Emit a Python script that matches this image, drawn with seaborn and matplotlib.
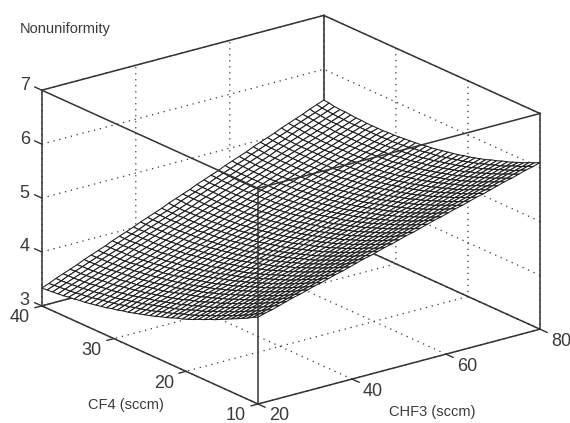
import seaborn as sns
from matplotlib import pyplot as plt
from mpl_toolkits.mplot3d import proj3d
import numpy as np

chf3 = np.linspace(20, 80, 41)
cf4 = np.linspace(40, 10, 41)
# nonuniformity, one row per cf4 value
z_rows = [
    [3.33,3.38,3.44,3.49,3.54,3.59,3.65,3.70,3.75,3.80,3.86,3.91,3.96,4.01,4.07,4.12,4.17,4.22,4.28,4.33,4.38,4.43,4.49,4.54,4.59,4.64,4.70,4.75,4.80,4.85,4.91,4.96,5.01,5.06,5.12,5.17,5.22,5.27,5.33,5.38,5.43],
    [3.34,3.39,3.44,3.50,3.55,3.60,3.65,3.70,3.75,3.81,3.86,3.91,3.96,4.01,4.07,4.12,4.17,4.22,4.27,4.33,4.38,4.43,4.48,4.53,4.59,4.64,4.69,4.74,4.79,4.85,4.90,4.95,5.00,5.05,5.10,5.16,5.21,5.26,5.31,5.36,5.42],
    [3.35,3.40,3.45,3.50,3.55,3.60,3.66,3.71,3.76,3.81,3.86,3.91,3.97,4.02,4.07,4.12,4.17,4.22,4.27,4.32,4.38,4.43,4.48,4.53,4.58,4.63,4.68,4.74,4.79,4.84,4.89,4.94,4.99,5.04,5.10,5.15,5.20,5.25,5.30,5.35,5.40],
    [3.36,3.41,3.46,3.51,3.56,3.61,3.66,3.71,3.77,3.82,3.87,3.92,3.97,4.02,4.07,4.12,4.17,4.22,4.27,4.32,4.38,4.43,4.48,4.53,4.58,4.63,4.68,4.73,4.78,4.83,4.88,4.94,4.99,5.04,5.09,5.14,5.19,5.24,5.29,5.34,5.39],
    [3.37,3.42,3.47,3.52,3.57,3.62,3.67,3.72,3.77,3.82,3.88,3.93,3.98,4.03,4.08,4.13,4.18,4.23,4.28,4.33,4.38,4.43,4.48,4.53,4.58,4.63,4.68,4.73,4.78,4.83,4.88,4.93,4.98,5.03,5.08,5.13,5.18,5.23,5.28,5.33,5.39],
    [3.39,3.43,3.48,3.53,3.58,3.63,3.68,3.73,3.78,3.83,3.88,3.93,3.98,4.03,4.08,4.13,4.18,4.23,4.28,4.33,4.38,4.43,4.48,4.53,4.58,4.63,4.68,4.73,4.78,4.83,4.88,4.93,4.98,5.03,5.08,5.13,5.18,5.23,5.28,5.33,5.38],
    [3.40,3.45,3.50,3.55,3.60,3.65,3.70,3.74,3.79,3.84,3.89,3.94,3.99,4.04,4.09,4.14,4.19,4.24,4.29,4.34,4.39,4.43,4.48,4.53,4.58,4.63,4.68,4.73,4.78,4.83,4.88,4.93,4.98,5.03,5.08,5.12,5.17,5.22,5.27,5.32,5.37],
    [3.42,3.46,3.51,3.56,3.61,3.66,3.71,3.76,3.81,3.85,3.90,3.95,4.00,4.05,4.10,4.15,4.20,4.24,4.29,4.34,4.39,4.44,4.49,4.54,4.59,4.63,4.68,4.73,4.78,4.83,4.88,4.93,4.98,5.03,5.07,5.12,5.17,5.22,5.27,5.32,5.37],
    [3.43,3.48,3.53,3.58,3.62,3.67,3.72,3.77,3.82,3.87,3.91,3.96,4.01,4.06,4.11,4.16,4.20,4.25,4.30,4.35,4.40,4.45,4.49,4.54,4.59,4.64,4.69,4.74,4.78,4.83,4.88,4.93,4.98,5.03,5.07,5.12,5.17,5.22,5.27,5.32,5.36],
    [3.45,3.50,3.55,3.59,3.64,3.69,3.74,3.79,3.83,3.88,3.93,3.98,4.02,4.07,4.12,4.17,4.22,4.26,4.31,4.36,4.41,4.46,4.50,4.55,4.60,4.65,4.69,4.74,4.79,4.84,4.89,4.93,4.98,5.03,5.08,5.12,5.17,5.22,5.27,5.32,5.36],
    [3.47,3.52,3.56,3.61,3.66,3.71,3.75,3.80,3.85,3.90,3.94,3.99,4.04,4.08,4.13,4.18,4.23,4.27,4.32,4.37,4.42,4.46,4.51,4.56,4.61,4.65,4.70,4.75,4.79,4.84,4.89,4.94,4.98,5.03,5.08,5.13,5.17,5.22,5.27,5.32,5.36],
    [3.49,3.54,3.58,3.63,3.68,3.72,3.77,3.82,3.87,3.91,3.96,4.01,4.05,4.10,4.15,4.19,4.24,4.29,4.33,4.38,4.43,4.47,4.52,4.57,4.62,4.66,4.71,4.76,4.80,4.85,4.90,4.94,4.99,5.04,5.08,5.13,5.18,5.22,5.27,5.32,5.36],
    [3.51,3.56,3.60,3.65,3.70,3.74,3.79,3.84,3.88,3.93,3.98,4.02,4.07,4.12,4.16,4.21,4.25,4.30,4.35,4.39,4.44,4.49,4.53,4.58,4.62,4.67,4.72,4.76,4.81,4.86,4.90,4.95,4.99,5.04,5.09,5.13,5.18,5.23,5.27,5.32,5.37],
    [3.54,3.58,3.63,3.67,3.72,3.77,3.81,3.86,3.90,3.95,3.99,4.04,4.09,4.13,4.18,4.22,4.27,4.32,4.36,4.41,4.45,4.50,4.55,4.59,4.64,4.68,4.73,4.78,4.82,4.87,4.91,4.96,5.00,5.05,5.10,5.14,5.19,5.23,5.28,5.33,5.37],
    [3.56,3.61,3.65,3.70,3.74,3.79,3.83,3.88,3.92,3.97,4.01,4.06,4.11,4.15,4.20,4.24,4.29,4.33,4.38,4.42,4.47,4.51,4.56,4.61,4.65,4.70,4.74,4.79,4.83,4.88,4.92,4.97,5.02,5.06,5.11,5.15,5.20,5.24,5.29,5.33,5.38],
    [3.59,3.63,3.68,3.72,3.77,3.81,3.86,3.90,3.95,3.99,4.04,4.08,4.13,4.17,4.22,4.26,4.31,4.35,4.40,4.44,4.49,4.53,4.58,4.62,4.67,4.71,4.76,4.80,4.85,4.89,4.94,4.98,5.03,5.07,5.12,5.16,5.21,5.25,5.30,5.34,5.39],
    [3.61,3.66,3.70,3.75,3.79,3.83,3.88,3.92,3.97,4.01,4.06,4.10,4.15,4.19,4.24,4.28,4.33,4.37,4.42,4.46,4.50,4.55,4.59,4.64,4.68,4.73,4.77,4.82,4.86,4.91,4.95,5.00,5.04,5.08,5.13,5.17,5.22,5.26,5.31,5.35,5.40],
    [3.64,3.68,3.73,3.77,3.82,3.86,3.90,3.95,3.99,4.04,4.08,4.12,4.17,4.21,4.26,4.30,4.35,4.39,4.43,4.48,4.52,4.57,4.61,4.66,4.70,4.74,4.79,4.83,4.88,4.92,4.96,5.01,5.05,5.10,5.14,5.19,5.23,5.27,5.32,5.36,5.41],
    [3.67,3.71,3.76,3.80,3.84,3.89,3.93,3.97,4.02,4.06,4.11,4.15,4.19,4.24,4.28,4.32,4.37,4.41,4.46,4.50,4.54,4.59,4.63,4.68,4.72,4.76,4.81,4.85,4.89,4.94,4.98,5.03,5.07,5.11,5.16,5.20,5.24,5.29,5.33,5.38,5.42],
    [3.70,3.74,3.79,3.83,3.87,3.92,3.96,4.00,4.05,4.09,4.13,4.18,4.22,4.26,4.31,4.35,4.39,4.44,4.48,4.52,4.57,4.61,4.65,4.70,4.74,4.78,4.83,4.87,4.91,4.96,5.00,5.04,5.09,5.13,5.17,5.22,5.26,5.30,5.35,5.39,5.44],
    [3.73,3.77,3.82,3.86,3.90,3.95,3.99,4.03,4.07,4.12,4.16,4.20,4.25,4.29,4.33,4.38,4.42,4.46,4.50,4.55,4.59,4.63,4.68,4.72,4.76,4.81,4.85,4.89,4.93,4.98,5.02,5.06,5.11,5.15,5.19,5.24,5.28,5.32,5.36,5.41,5.45],
    [3.76,3.81,3.85,3.89,3.93,3.98,4.02,4.06,4.10,4.15,4.19,4.23,4.27,4.32,4.36,4.40,4.44,4.49,4.53,4.57,4.62,4.66,4.70,4.74,4.79,4.83,4.87,4.91,4.96,5.00,5.04,5.08,5.13,5.17,5.21,5.25,5.30,5.34,5.38,5.43,5.47],
    [3.80,3.84,3.88,3.92,3.97,4.01,4.05,4.09,4.13,4.18,4.22,4.26,4.30,4.35,4.39,4.43,4.47,4.51,4.56,4.60,4.64,4.68,4.73,4.77,4.81,4.85,4.89,4.94,4.98,5.02,5.06,5.11,5.15,5.19,5.23,5.27,5.32,5.36,5.40,5.44,5.49],
    [3.83,3.87,3.91,3.96,4.00,4.04,4.08,4.12,4.17,4.21,4.25,4.29,4.33,4.38,4.42,4.46,4.50,4.54,4.58,4.63,4.67,4.71,4.75,4.79,4.84,4.88,4.92,4.96,5.00,5.05,5.09,5.13,5.17,5.21,5.26,5.30,5.34,5.38,5.42,5.46,5.51],
    [3.87,3.91,3.95,3.99,4.03,4.08,4.12,4.16,4.20,4.24,4.28,4.32,4.37,4.41,4.45,4.49,4.53,4.57,4.62,4.66,4.70,4.74,4.78,4.82,4.86,4.91,4.95,4.99,5.03,5.07,5.11,5.16,5.20,5.24,5.28,5.32,5.36,5.40,5.45,5.49,5.53],
    [3.91,3.95,3.99,4.03,4.07,4.11,4.15,4.19,4.23,4.28,4.32,4.36,4.40,4.44,4.48,4.52,4.56,4.60,4.65,4.69,4.73,4.77,4.81,4.85,4.89,4.93,4.97,5.02,5.06,5.10,5.14,5.18,5.22,5.26,5.30,5.35,5.39,5.43,5.47,5.51,5.55],
    [3.94,3.98,4.03,4.07,4.11,4.15,4.19,4.23,4.27,4.31,4.35,4.39,4.43,4.47,4.52,4.56,4.60,4.64,4.68,4.72,4.76,4.80,4.84,4.88,4.92,4.97,5.01,5.05,5.09,5.13,5.17,5.21,5.25,5.29,5.33,5.37,5.41,5.45,5.50,5.54,5.58],
    [3.98,4.02,4.06,4.10,4.15,4.19,4.23,4.27,4.31,4.35,4.39,4.43,4.47,4.51,4.55,4.59,4.63,4.67,4.71,4.75,4.79,4.83,4.87,4.91,4.95,4.99,5.04,5.08,5.12,5.16,5.20,5.24,5.28,5.32,5.36,5.40,5.44,5.48,5.52,5.56,5.60],
    [4.02,4.06,4.10,4.14,4.18,4.22,4.27,4.31,4.35,4.39,4.43,4.47,4.51,4.55,4.59,4.63,4.67,4.71,4.75,4.79,4.83,4.87,4.91,4.95,4.99,5.03,5.07,5.11,5.15,5.19,5.23,5.27,5.31,5.35,5.39,5.43,5.47,5.51,5.55,5.59,5.63],
    [4.07,4.11,4.15,4.19,4.23,4.27,4.31,4.35,4.39,4.43,4.47,4.51,4.55,4.59,4.63,4.67,4.70,4.74,4.78,4.82,4.86,4.90,4.94,4.98,5.02,5.06,5.10,5.14,5.18,5.22,5.26,5.30,5.34,5.38,5.42,5.46,5.50,5.54,5.58,5.62,5.66],
    [4.11,4.15,4.19,4.23,4.27,4.31,4.35,4.39,4.43,4.47,4.51,4.55,4.58,4.62,4.66,4.70,4.74,4.78,4.82,4.86,4.90,4.94,4.98,5.02,5.06,5.10,5.14,5.18,5.22,5.26,5.30,5.34,5.38,5.42,5.46,5.49,5.53,5.57,5.61,5.65,5.69],
    [4.16,4.19,4.23,4.27,4.31,4.35,4.39,4.43,4.47,4.51,4.55,4.59,4.63,4.67,4.70,4.74,4.78,4.82,4.86,4.90,4.94,4.98,5.02,5.06,5.10,5.14,5.18,5.22,5.25,5.29,5.33,5.37,5.41,5.45,5.49,5.53,5.57,5.61,5.65,5.69,5.73],
    [4.20,4.24,4.28,4.32,4.36,4.39,4.43,4.47,4.51,4.55,4.59,4.63,4.67,4.71,4.75,4.78,4.82,4.86,4.90,4.94,4.98,5.02,5.06,5.10,5.14,5.17,5.21,5.25,5.29,5.33,5.37,5.41,5.45,5.49,5.53,5.56,5.60,5.64,5.68,5.72,5.76],
    [4.25,4.29,4.32,4.36,4.40,4.44,4.48,4.52,4.56,4.60,4.63,4.67,4.71,4.75,4.79,4.83,4.87,4.90,4.94,4.98,5.02,5.06,5.10,5.14,5.18,5.21,5.25,5.29,5.33,5.37,5.41,5.45,5.49,5.52,5.56,5.60,5.64,5.68,5.72,5.76,5.80],
    [4.30,4.33,4.37,4.41,4.45,4.49,4.53,4.56,4.60,4.64,4.68,4.72,4.76,4.80,4.83,4.87,4.91,4.95,4.99,5.03,5.06,5.10,5.14,5.18,5.22,5.26,5.30,5.33,5.37,5.41,5.45,5.49,5.53,5.56,5.60,5.64,5.68,5.72,5.76,5.79,5.83],
    [4.35,4.38,4.42,4.46,4.50,4.54,4.57,4.61,4.65,4.69,4.73,4.76,4.80,4.84,4.88,4.92,4.96,4.99,5.03,5.07,5.11,5.15,5.18,5.22,5.26,5.30,5.34,5.38,5.41,5.45,5.49,5.53,5.57,5.60,5.64,5.68,5.72,5.76,5.80,5.83,5.87],
    [4.40,4.43,4.47,4.51,4.55,4.59,4.62,4.66,4.70,4.74,4.78,4.81,4.85,4.89,4.93,4.96,5.00,5.04,5.08,5.12,5.15,5.19,5.23,5.27,5.31,5.34,5.38,5.42,5.46,5.50,5.53,5.57,5.61,5.65,5.69,5.72,5.76,5.80,5.84,5.88,5.91],
    [4.45,4.48,4.52,4.56,4.60,4.63,4.67,4.71,4.75,4.79,4.82,4.86,4.90,4.94,4.97,5.01,5.05,5.09,5.13,5.16,5.20,5.24,5.28,5.31,5.35,5.39,5.43,5.46,5.50,5.54,5.58,5.62,5.65,5.69,5.73,5.77,5.80,5.84,5.88,5.92,5.95],
    [4.50,4.54,4.57,4.61,4.65,4.69,4.72,4.76,4.80,4.84,4.87,4.91,4.95,4.99,5.02,5.06,5.10,5.14,5.17,5.21,5.25,5.29,5.32,5.36,5.40,5.44,5.47,5.51,5.55,5.59,5.62,5.66,5.70,5.74,5.77,5.81,5.85,5.89,5.92,5.96,6.00],
    [4.56,4.59,4.63,4.67,4.70,4.74,4.78,4.82,4.85,4.89,4.93,4.96,5.00,5.04,5.08,5.11,5.15,5.19,5.22,5.26,5.30,5.34,5.37,5.41,5.45,5.49,5.52,5.56,5.60,5.63,5.67,5.71,5.75,5.78,5.82,5.86,5.89,5.93,5.97,6.01,6.04],
    [4.61,4.65,4.68,4.72,4.76,4.80,4.83,4.87,4.91,4.94,4.98,5.02,5.05,5.09,5.13,5.17,5.20,5.24,5.28,5.31,5.35,5.39,5.42,5.46,5.50,5.54,5.57,5.61,5.65,5.68,5.72,5.76,5.79,5.83,5.87,5.91,5.94,5.98,6.02,6.05,6.09],
]
chf3_ticks = [20, 40, 60, 80]
cf4_ticks = [10, 20, 30, 40]
z_ticks = [3, 4, 5, 6, 7]

sns.set_theme(style="white")
plt.rcParams['font.family'] = ['Liberation Sans', 'DejaVu Sans']
LINE = '#333333'
TEXT = '#3a3a3a'

fig = plt.figure(figsize=(5.7, 4.23), dpi=100)
ax = fig.add_axes([0, 0, 1, 1], projection='3d', computed_zorder=False)
ax.set_proj_type('ortho')
ax.view_init(elev=20.3, azim=-127.4)
ax.set_box_aspect((355, 356, 230))
ax.set_xlim3d(20, 80, view_margin=0)
ax.set_ylim3d(10, 40, view_margin=0)
ax.set_zlim3d(3, 7, view_margin=0)
ax.patch.set_alpha(0)

ax.set_xticks(chf3_ticks)
ax.set_yticks(cf4_ticks)
ax.set_zticks(z_ticks)
ax.set_xticklabels([])
ax.set_yticklabels([])
ax.set_zticklabels([])
for axis in (ax.xaxis, ax.yaxis, ax.zaxis):
    axis.set_pane_color((1, 1, 1, 0))
    axis.pane.set_edgecolor((1, 1, 1, 0))
    axis.line.set_color((1, 1, 1, 0))
    axis._axinfo['tick']['inward_factor'] = 0
    axis._axinfo['tick']['outward_factor'] = 0
    axis._axinfo['grid'].update(color='#333333', linewidth=0.9, linestyle=(0, (1, 3.8)))

X, Y = np.meshgrid(chf3, cf4)
Z = np.array(z_rows)
ax.plot_surface(X, Y, Z, rstride=1, cstride=1, color='white', edgecolor='#1c1c1c',
                linewidth=0.75, shade=False, zorder=3)

# box edges, the ones behind the surface first
for p, q in [((20, 40, 3), (80, 40, 3)), ((80, 40, 3), (80, 40, 7)), ((80, 40, 3), (80, 10, 3))]:
    ax.plot(*zip(p, q), color=LINE, lw=1.1, zorder=2)
for p, q in [((20, 40, 3), (20, 40, 7)), ((20, 40, 3), (20, 10, 3)), ((20, 10, 3), (80, 10, 3)),
             ((80, 10, 3), (80, 10, 7)), ((20, 10, 3), (20, 10, 7)), ((20, 40, 7), (20, 10, 7)),
             ((20, 10, 7), (80, 10, 7)), ((20, 40, 7), (80, 40, 7)), ((80, 40, 7), (80, 10, 7))]:
    ax.plot(*zip(p, q), color=LINE, lw=1.1, zorder=5)

# tick stubs
for v in chf3_ticks:
    ax.plot([v, v], [10, 9], [3, 3], color=LINE, lw=1.0, zorder=5)
for v in cf4_ticks:
    ax.plot([20, 18.5], [v, v], [3, 3], color=LINE, lw=1.0, zorder=5)
for v in z_ticks:
    ax.plot([20, 20], [40, 41], [v, v], color=LINE, lw=1.0, zorder=5)


def to_px(x, y, z):
    px, py, _ = proj3d.proj_transform(x, y, z, ax.get_proj())
    return ax.transData.transform((px, py))


# fit the box into the figure from its front-bottom and right-bottom corners
W = 500.0
L, B = 0.0, 0.0
for _ in range(3):
    ax.set_position([L / 570, B / 423, W / 570, W / 423])
    ax.apply_aspect()
    front = to_px(20, 10, 3)
    right = to_px(80, 10, 3)
    W *= 282 / (right[0] - front[0])
    ax.set_position([L / 570, B / 423, W / 570, W / 423])
    ax.apply_aspect()
    front = to_px(20, 10, 3)
    L += 258 - front[0]
    B += (423 - 404) - front[1]
ax.set_position([L / 570, B / 423, W / 570, W / 423])
ax.apply_aspect()


def tick_label(label, x, y, z, dx, dy):
    M = ax.get_proj()
    px, py, _ = proj3d.proj_transform(x, y, z, M)
    ax.annotate(str(label), xy=(px, py), xytext=(dx, dy), textcoords='offset pixels',
                ha='center', va='center', fontsize=13, color=TEXT, annotation_clip=False)


for v in chf3_ticks:
    tick_label(v, v, 10, 3, 21, -12)
for v in cf4_ticks:
    tick_label(v, 20, v, 3, -22, -12)
for v in z_ticks:
    tick_label(v, 20, 40, v, -17, 5)

fig.text(20 / 570, 1 - 29 / 423, 'Nonuniformity', fontsize=10.5, color=TEXT, ha='left', va='center')
fig.text(126 / 570, 1 - 405 / 423, 'CF4 (sccm)', fontsize=10.5, color=TEXT, ha='center', va='center')
fig.text(432 / 570, 1 - 412 / 423, 'CHF3 (sccm)', fontsize=10.5, color=TEXT, ha='center', va='center')

fig.savefig('out.png', dpi=100)
